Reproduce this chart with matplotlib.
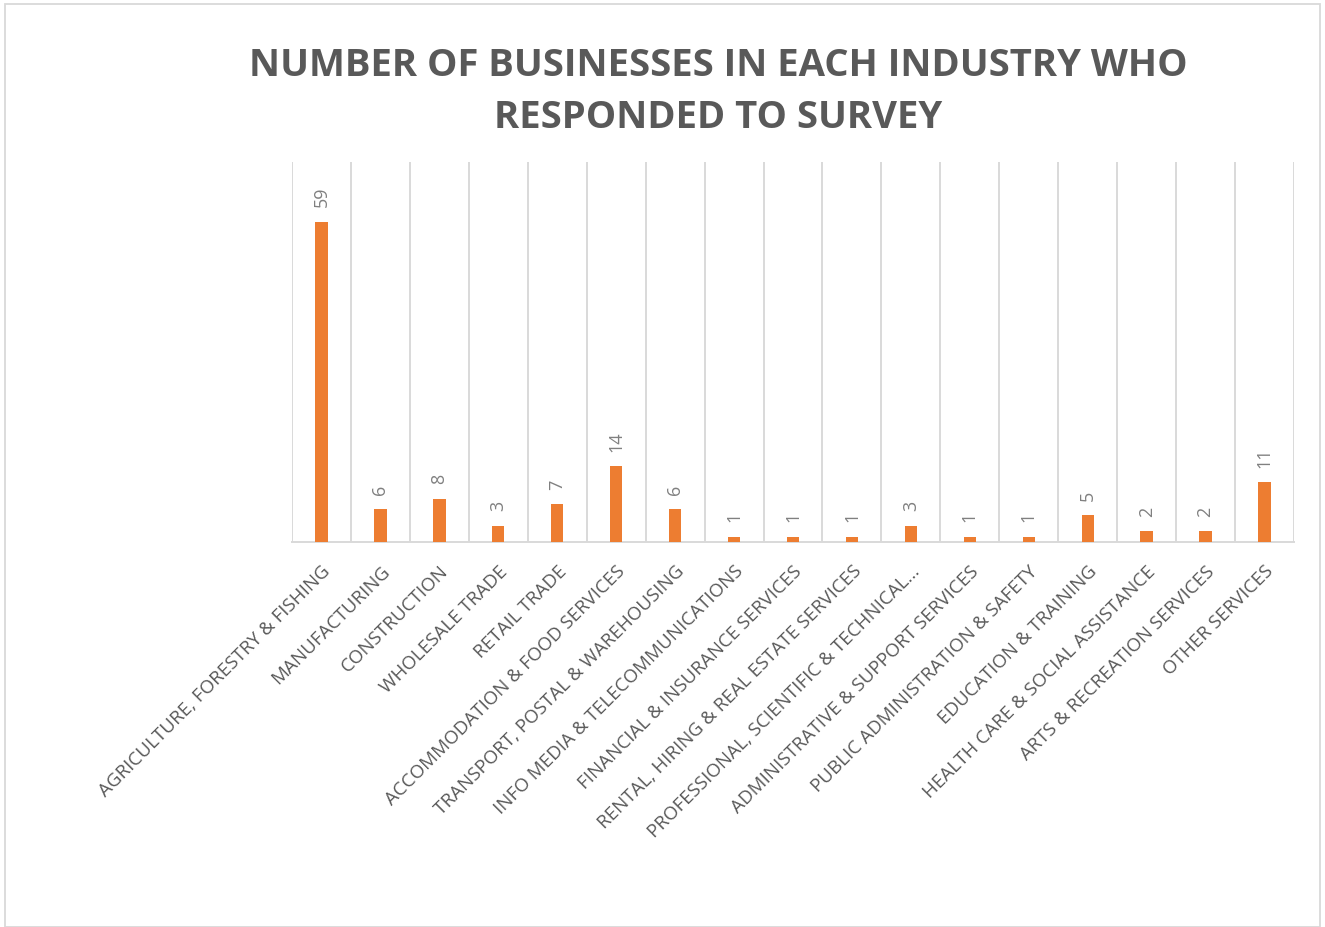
import matplotlib
matplotlib.use("Agg")
import matplotlib.pyplot as plt
from matplotlib.patches import Rectangle

industries = [
    "AGRICULTURE, FORESTRY & FISHING",
    "MANUFACTURING",
    "CONSTRUCTION",
    "WHOLESALE TRADE",
    "RETAIL TRADE",
    "ACCOMMODATION & FOOD SERVICES",
    "TRANSPORT, POSTAL & WAREHOUSING",
    "INFO MEDIA & TELECOMMUNICATIONS",
    "FINANCIAL & INSURANCE SERVICES",
    "RENTAL, HIRING & REAL ESTATE SERVICES",
    "PROFESSIONAL, SCIENTIFIC & TECHNICAL...",
    "ADMINISTRATIVE & SUPPORT SERVICES",
    "PUBLIC ADMINISTRATION & SAFETY",
    "EDUCATION & TRAINING",
    "HEALTH CARE & SOCIAL ASSISTANCE",
    "ARTS & RECREATION SERVICES",
    "OTHER SERVICES",
]
responses = [59, 6, 8, 3, 7, 14, 6, 1, 1, 1, 3, 1, 1, 5, 2, 2, 11]

BAR_COLOR  = "#ED7D31"
TEXT_COLOR = "#595959"
GRID_COLOR = "#D9D9D9"

plt.rcParams["font.family"] = ["Open Sans", "DejaVu Sans"]

fig = plt.figure(figsize=(13.25, 9.28), dpi=100)
ax = fig.add_axes([292 / 1325, 1 - 543 / 928, (1294 - 292) / 1325, (543 - 163) / 928])

x = list(range(len(industries)))
ax.bar(x, responses, width=0.21, color=BAR_COLOR, zorder=3)

# vertical gridlines at the category boundaries
for b in range(len(industries) + 1):
    ax.axvline(b - 0.5, color=GRID_COLOR, linewidth=1.4, zorder=1)

for xi, v in zip(x, responses):
    ax.annotate(str(v), (xi, v), xytext=(0, 11), textcoords="offset points",
                rotation=90, ha="center", va="bottom", fontsize=13,
                color="#808080")

ax.set_xlim(-0.5, len(industries) - 0.5)
ax.set_ylim(0, 70)
ax.set_yticks([])
ax.set_xticks(x)
ax.set_xticklabels(industries, rotation=45, ha="right", rotation_mode="anchor",
                   fontsize=13.5, color=TEXT_COLOR)
ax.tick_params(axis="x", length=0, pad=14)
for side in ["top", "left", "right"]:
    ax.spines[side].set_visible(False)
ax.spines["bottom"].set_color(GRID_COLOR)
ax.spines["bottom"].set_linewidth(1.4)

fig.text(718 / 1325, 1 - 92 / 928,
         "NUMBER OF BUSINESSES IN EACH INDUSTRY WHO\nRESPONDED TO SURVEY",
         ha="center", va="center", fontsize=27.5, fontweight="bold",
         color=TEXT_COLOR, linespacing=1.45)

# thin frame around the chart area
fig.patches.append(Rectangle((5 / 1325, 0), 1315 / 1325, 1 - 5 / 928,
                             transform=fig.transFigure, fill=False,
                             edgecolor=GRID_COLOR, linewidth=1.3))

fig.savefig("out.png", dpi=100)
